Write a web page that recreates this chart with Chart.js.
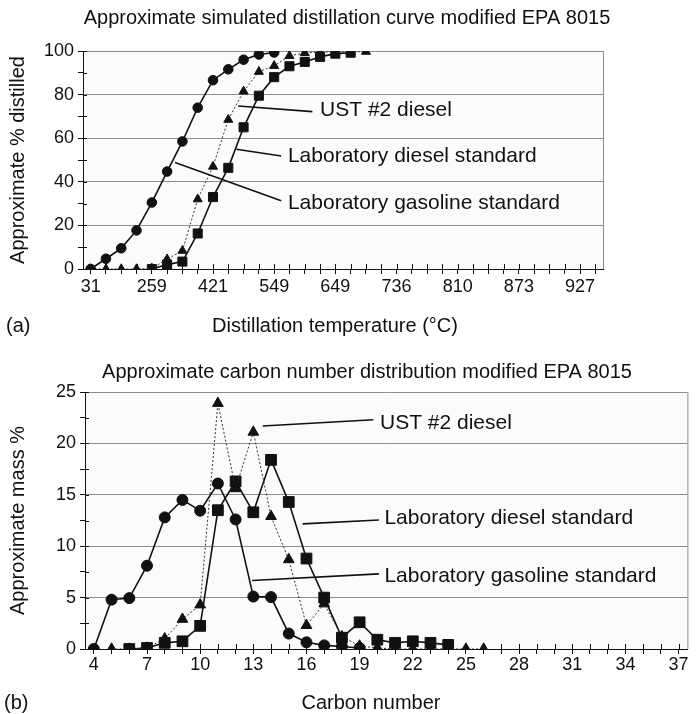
<!DOCTYPE html>
<html>
<head>
<meta charset="utf-8">
<script src="https://cdn.jsdelivr.net/npm/chart.js@4.4.1/dist/chart.umd.min.js"></script>
<style>
  body { margin: 0; background: #fff; width: 696px; height: 714px; overflow: hidden; position: relative; }
  canvas { position: absolute; left: 0; }
  #distChart { top: 0; }
  #carbonChart { top: 341px; }
</style>
</head>
<body>
<canvas id="distChart" width="696" height="342"></canvas>
<canvas id="carbonChart" width="696" height="373"></canvas>
<script>
// (a) simulated distillation: one category per tick mark, every 4th one labelled
const tempTickLabels = ['31', '259', '421', '549', '649', '736', '810', '873', '927'];
const tempCategoryCount = 34;
const gasolineDistilled = [0, 4.7, 9.5, 17.7, 30.5, 44.7, 58.5, 74, 86.6, 91.6, 96, 98.4, 99.3];
const ust2Distilled = [0, 0, 0, 0, 0.3, 4.5, 8.4, 32, 47, 68.5, 81.5, 90.5, 93.2, 97.8, 99.1, 99.5, 99.6, 99.6, 99.7];
const labDieselDistilled = [null, null, null, null, 0, 2, 3.4, 16.3, 33, 46.4, 65, 79.5, 88, 93, 95, 97.3, 98.8, 99.2];

// (b) carbon number distribution
const carbonNumbers = [4, 5, 6, 7, 8, 9, 10, 11, 12, 13, 14, 15, 16, 17, 18, 19, 20, 21, 22, 23, 24, 25, 26, 27, 28, 29, 30, 31, 32, 33, 34, 35, 36, 37];
const carbonTickLabels = ['4', '7', '10', '13', '16', '19', '22', '25', '28', '31', '34', '37'];
const gasolineMass = [0, 4.8, 4.95, 8.1, 12.8, 14.5, 13.45, 16.1, 12.6, 5.1, 5.05, 1.5, 0.65, 0.35, 0.25, 0.1];
const ust2Mass = [null, 0, 0, 0.1, 1.0, 2.9, 4.3, 23.9, 15.6, 21.1, 12.9, 8.7, 2.3, 4.4, 1.2, 0.3, 0.1, 0, 0, 0, 0, 0, 0];
const labDieselMass = [null, null, 0, 0.1, 0.6, 0.75, 2.25, 13.5, 16.3, 13.3, 18.4, 14.3, 8.8, 5.0, 1.1, 2.6, 0.9, 0.6, 0.75, 0.6, 0.4];

Chart.defaults.font.family = "'Liberation Sans', Arial, sans-serif";
Chart.defaults.color = '#111';

const ink = '#111';
const gridGray = '#8c8c8c';
const textFont = "20px 'Liberation Sans', Arial, sans-serif";

const tempLabels = [];
for (let i = 0; i < tempCategoryCount; i++) {
  tempLabels.push(i % 4 === 0 && tempTickLabels[i / 4] ? tempTickLabels[i / 4] : '');
}
const carbonLabels = carbonNumbers.map(c => carbonTickLabels.includes(String(c)) ? String(c) : '');

// plot background, grey right frame, tick marks that cross the axes
const frame = {
  id: 'frame',
  beforeDraw(chart) {
    const a = chart.chartArea, ctx = chart.ctx;
    ctx.save();
    ctx.fillStyle = '#fbfbfb';
    ctx.fillRect(a.left, a.top, a.right - a.left, a.bottom - a.top);
    ctx.restore();
  },
  afterDraw(chart) {
    const a = chart.chartArea, ctx = chart.ctx;
    const xs = chart.scales.x, ys = chart.scales.y;
    ctx.save();
    ctx.strokeStyle = gridGray;
    ctx.lineWidth = 1;
    ctx.beginPath();
    ctx.moveTo(a.right + 0.5, a.top);
    ctx.lineTo(a.right + 0.5, a.bottom);
    ctx.stroke();
    ctx.strokeStyle = ink;
    ctx.beginPath();
    xs.ticks.forEach((t, i) => {
      const px = Math.round(xs.getPixelForTick(i)) + 0.5;
      ctx.moveTo(px, a.bottom);
      ctx.lineTo(px, a.bottom - 5);
    });
    ys.ticks.forEach((t, i) => {
      const py = Math.round(ys.getPixelForTick(i)) + 0.5;
      ctx.moveTo(a.left, py);
      ctx.lineTo(a.left + 4, py);
    });
    ctx.stroke();
    ctx.restore();
  }
};

// leader lines with their series names (positions in category index / value units)
const callouts = {
  id: 'callouts',
  afterDatasetsDraw(chart, args, opts) {
    const xs = chart.scales.x, ys = chart.scales.y, ctx = chart.ctx;
    ctx.save();
    ctx.strokeStyle = ink;
    ctx.lineWidth = 1.6;
    ctx.fillStyle = ink;
    ctx.font = "21px 'Liberation Sans', Arial, sans-serif";
    ctx.textAlign = 'left';
    ctx.textBaseline = 'middle';
    opts.items.forEach(it => {
      ctx.beginPath();
      ctx.moveTo(xs.getPixelForValue(it.from[0]), ys.getPixelForValue(it.from[1]));
      ctx.lineTo(xs.getPixelForValue(it.to[0]), ys.getPixelForValue(it.to[1]));
      ctx.stroke();
      ctx.fillText(it.text, xs.getPixelForValue(it.at[0]), ys.getPixelForValue(it.at[1]));
    });
    ctx.restore();
  }
};

// chart title, x axis title and panel letter
const panelText = {
  id: 'panelText',
  afterDraw(chart, args, opts) {
    const ctx = chart.ctx;
    ctx.save();
    ctx.fillStyle = ink;
    ctx.font = textFont;
    ctx.textBaseline = 'middle';
    ctx.textAlign = 'left';
    ctx.fillText(opts.tag, opts.tagX, opts.axisY);
    ctx.textAlign = 'center';
    ctx.fillText(opts.axisTitle, opts.axisX, opts.axisY);
    ctx.fillText(opts.title, opts.titleX, opts.titleY);
    ctx.restore();
  }
};

function series(data, style, radius, dotted) {
  return {
    data: data,
    borderColor: dotted ? '#333' : ink,
    borderWidth: dotted ? 1 : 1.6,
    borderDash: dotted ? [2, 2] : [],
    pointStyle: style,
    pointRadius: radius,
    pointBackgroundColor: ink,
    pointBorderColor: ink,
    pointBorderWidth: 1,
    tension: 0,
    spanGaps: false
  };
}

function yAxis(max, step, labelEvery, title, width) {
  return {
    min: 0,
    max: max,
    ticks: {
      stepSize: step,
      autoSkip: false,
      padding: 4,
      font: { size: 18 },
      callback: v => (v % labelEvery === 0 ? v : '')
    },
    grid: {
      color: c => (c.tick && c.tick.value % labelEvery === 0 ? gridGray : 'rgba(0,0,0,0)'),
      tickColor: ink,
      tickLength: 5
    },
    border: { color: ink },
    title: { display: true, text: title, font: { size: 20 }, padding: { top: 6, bottom: 0 } },
    afterFit: s => { s.width = width; }
  };
}

function xAxis(labelPad, height) {
  return {
    offset: true,
    ticks: { autoSkip: false, maxRotation: 0, minRotation: 0, padding: labelPad, font: { size: 18 } },
    grid: { drawOnChartArea: false, tickLength: 5, tickColor: ink },
    border: { color: ink },
    afterFit: s => { s.height = height; }
  };
}

new Chart(document.getElementById('distChart'), {
  type: 'line',
  data: {
    labels: tempLabels,
    datasets: [
      series(gasolineDistilled, 'circle', 4.8, false),
      series(ust2Distilled, 'triangle', 5.2, true),
      series(labDieselDistilled, 'rect', 6.4, false)
    ]
  },
  options: {
    responsive: false,
    animation: false,
    layout: { padding: { left: 0, right: 93, top: 51, bottom: 0 } },
    scales: {
      x: xAxis(2, 73),
      y: yAxis(100, 10, 20, 'Approximate % distilled', 83)
    },
    plugins: {
      legend: { display: false },
      tooltip: { enabled: false },
      callouts: {
        items: [
          { text: 'UST #2 diesel', from: [9.64, 74.8], to: [14.5, 72.2], at: [15.0, 73] },
          { text: 'Laboratory diesel standard', from: [9.53, 54.9], to: [12.46, 51.8], at: [12.9, 51.8] },
          { text: 'Laboratory gasoline standard', from: [5.52, 48.8], to: [12.46, 31.3], at: [12.9, 30.4] }
        ]
      },
      panelText: {
        title: 'Approximate simulated distillation curve modified EPA 8015', titleX: 347, titleY: 18,
        tag: '(a)', tagX: 6,
        axisTitle: 'Distillation temperature (\u00B0C)', axisX: 335, axisY: 326
      }
    }
  },
  plugins: [frame, callouts, panelText]
});

new Chart(document.getElementById('carbonChart'), {
  type: 'line',
  data: {
    labels: carbonLabels,
    datasets: [
      series(gasolineMass, 'circle', 5.5, false),
      series(ust2Mass, 'triangle', 6.2, true),
      series(labDieselMass, 'rect', 7.6, false)
    ]
  },
  options: {
    responsive: false,
    animation: false,
    layout: { padding: { left: 0, right: 7, top: 51, bottom: 0 } },
    scales: {
      x: xAxis(0, 65),
      y: yAxis(25, 2.5, 5, 'Approximate mass %', 85)
    },
    plugins: {
      legend: { display: false },
      tooltip: { enabled: false },
      callouts: {
        items: [
          { text: 'UST #2 diesel', from: [9.53, 21.7], to: [15.77, 22.3], at: [16.15, 22.0] },
          { text: 'Laboratory diesel standard', from: [11.78, 12.17], to: [16.09, 12.55], at: [16.4, 12.7] },
          { text: 'Laboratory gasoline standard', from: [8.93, 6.66], to: [16.09, 7.31], at: [16.4, 7.05] }
        ]
      },
      panelText: {
        title: 'Approximate carbon number distribution modified EPA 8015', titleX: 367, titleY: 31,
        tag: '(b)', tagX: 4,
        axisTitle: 'Carbon number', axisX: 371, axisY: 362
      }
    }
  },
  plugins: [frame, callouts, panelText]
});
</script>
</body>
</html>
